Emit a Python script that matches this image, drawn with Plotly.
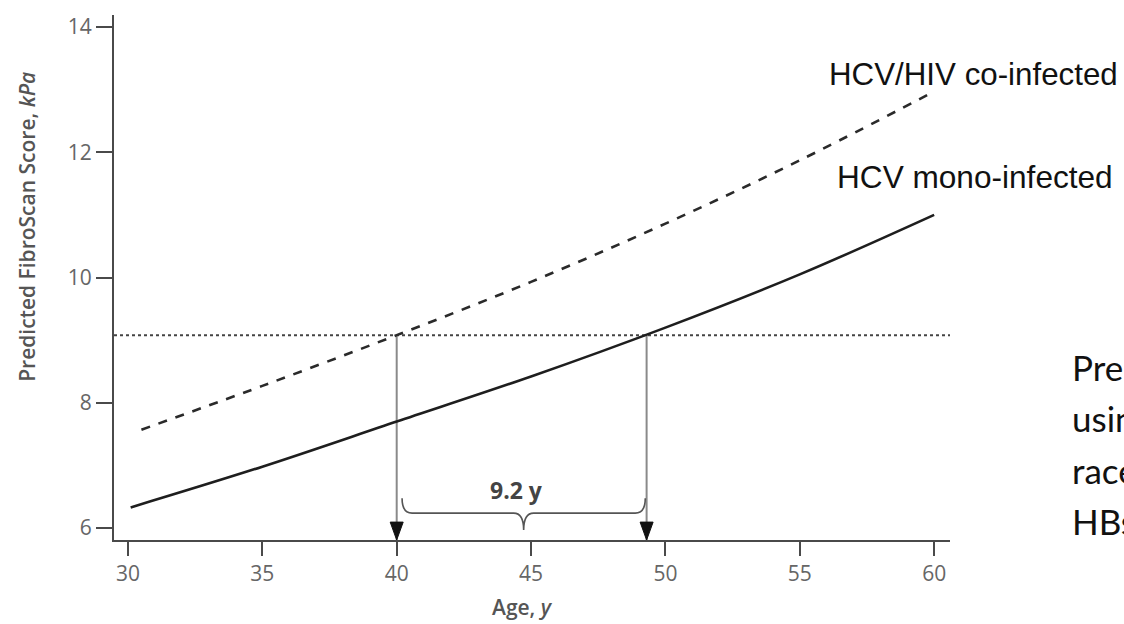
import plotly.graph_objects as go

# ---- data ----
ages_mono = [30.1, 35, 40, 45, 50, 55, 60]
fibro_mono = [6.33, 6.98, 7.70, 8.42, 9.20, 10.05, 11.0]
ages_co = [30.5, 35, 40, 45, 50, 55, 60]
fibro_co = [7.57, 8.27, 9.08, 9.93, 10.86, 11.87, 12.97]
threshold = 9.08
age_co_cross = 40.0
age_mono_cross = 49.3
gap_label = "9.2 y"
x_ticks = [30, 35, 40, 45, 50, 55, 60]
y_ticks = [6, 8, 10, 12, 14]
label_co = "HCV/HIV co-infected"
label_mono = "HCV mono-infected"
x_title = "Age, <i>y</i>"
y_title = "Predicted FibroScan Score, <i>kPa</i>"
side_lines = ["Predicted FibroScan scores from models",
              "using age, sex, alcohol use, BMI,",
              "race/ethnicity, diabetes, and",
              "HBsAg status"]

# ---- geometry / style ----
W, H = 1124, 624
ML, MR, MT, MB = 114, 174, 12, 84
XR = [29.48, 60.59]
YR = [5.81, 14.19]
PW, PH = W - ML - MR, H - MT - MB
xpx = PW / (XR[1] - XR[0])
ypx = PH / (YR[1] - YR[0])


def px_x(p):  # pixel -> paper
    return (p - ML) / PW


def px_y(p):
    return (H - MB - p) / PH


AX = "#4a4a4a"
TICKFONT = dict(family="Open Sans", size=21, color="#666666")
fig = go.Figure()

# threshold dotted line
fig.add_trace(go.Scatter(x=XR, y=[threshold, threshold], mode="lines",
                         line=dict(color="#444444", width=2, dash="dot"),
                         hoverinfo="skip", showlegend=False))

# vertical drop lines
for a in (age_co_cross, age_mono_cross):
    fig.add_trace(go.Scatter(x=[a, a], y=[threshold, YR[0]], mode="lines",
                             line=dict(color="#8a8a8a", width=2),
                             hoverinfo="skip", showlegend=False))

# curves
fig.add_trace(go.Scatter(x=ages_co, y=fibro_co, mode="lines",
                         line=dict(color="#2a2a2a", width=2.6, dash="dash", shape="spline"),
                         showlegend=False))
fig.add_trace(go.Scatter(x=ages_mono, y=fibro_mono, mode="lines",
                         line=dict(color="#1e1e1e", width=2.6, shape="spline"),
                         showlegend=False))

# arrowheads (filled triangles with tips on the x axis)
hw = 6.5 / xpx
hh = 18 / ypx
tx, ty = [], []
for a in (age_co_cross, age_mono_cross):
    tx += [a - hw, a + hw, a, a - hw, None]
    ty += [YR[0] + hh, YR[0] + hh, YR[0], YR[0] + hh, None]
fig.add_trace(go.Scatter(x=tx, y=ty, mode="lines", fill="toself",
                         fillcolor="#111111", line=dict(color="#111111", width=1),
                         hoverinfo="skip", showlegend=False, cliponaxis=False))

# curly brace between the two crossing ages
bx0 = age_co_cross + 0.2
bx1 = age_mono_cross - 0.05
bm = (bx0 + bx1) / 2
by_top = YR[0] + 42 / ypx
by_mid = YR[0] + 27 / ypx
by_tip = YR[0] + 10 / ypx
cx = 10 / xpx
path = (f"M {bx0},{by_top} Q {bx0},{by_mid} {bx0 + cx},{by_mid} "
        f"L {bm - cx},{by_mid} Q {bm},{by_mid} {bm},{by_tip} "
        f"Q {bm},{by_mid} {bm + cx},{by_mid} "
        f"L {bx1 - cx},{by_mid} Q {bx1},{by_mid} {bx1},{by_top}")
fig.add_shape(type="path", path=path, xref="x", yref="y",
              line=dict(color="#555555", width=1.6))

annotations = [
    dict(x=bm - 0.25, y=YR[0] + 50 / ypx, xref="x", yref="y", text=f"<b>{gap_label}</b>",
         showarrow=False, font=dict(family="Open Sans", size=23, color="#444444"),
         yanchor="middle"),
    dict(x=px_x(827), y=px_y(72), xref="paper", yref="paper", text=label_co,
         showarrow=False, xanchor="left", yanchor="middle",
         font=dict(family="Liberation Sans", size=31.3, color="#111111")),
    dict(x=px_x(835), y=px_y(175), xref="paper", yref="paper", text=label_mono,
         showarrow=False, xanchor="left", yanchor="middle",
         font=dict(family="Liberation Sans", size=31.6, color="#111111")),
    dict(x=px_x(27), y=px_y(225), xref="paper", yref="paper", text=y_title,
         showarrow=False, textangle=-90, xanchor="center", yanchor="middle",
         font=dict(family="Open Sans", size=21, color="#555555", weight=600)),
    dict(x=px_x(522), y=px_y(607), xref="paper", yref="paper", text=x_title,
         showarrow=False, xanchor="center", yanchor="middle",
         font=dict(family="Open Sans", size=21, color="#555555", weight=600)),
]
for i, t in enumerate(side_lines):
    annotations.append(dict(x=px_x(1070), y=px_y(366 + 51.7 * i), xref="paper", yref="paper",
                            text=t, showarrow=False, xanchor="left", yanchor="middle",
                            font=dict(family="Lato", size=35, color="#111111")))

fig.update_layout(
    width=W, height=H, margin=dict(l=ML, r=MR, t=MT, b=MB),
    paper_bgcolor="white", plot_bgcolor="white",
    annotations=annotations,
    xaxis=dict(range=XR, tickvals=x_ticks, ticks="outside", ticklen=14, tickwidth=2,
               tickcolor=AX, showline=True, linecolor=AX, linewidth=2,
               showgrid=False, zeroline=False, tickfont=TICKFONT),
    yaxis=dict(range=YR, tickvals=y_ticks, ticks="outside", ticklen=16, tickwidth=2,
               tickcolor=AX, showline=True, linecolor=AX, linewidth=2,
               showgrid=False, zeroline=False, tickfont=TICKFONT),
)

fig.write_html("out.html")
